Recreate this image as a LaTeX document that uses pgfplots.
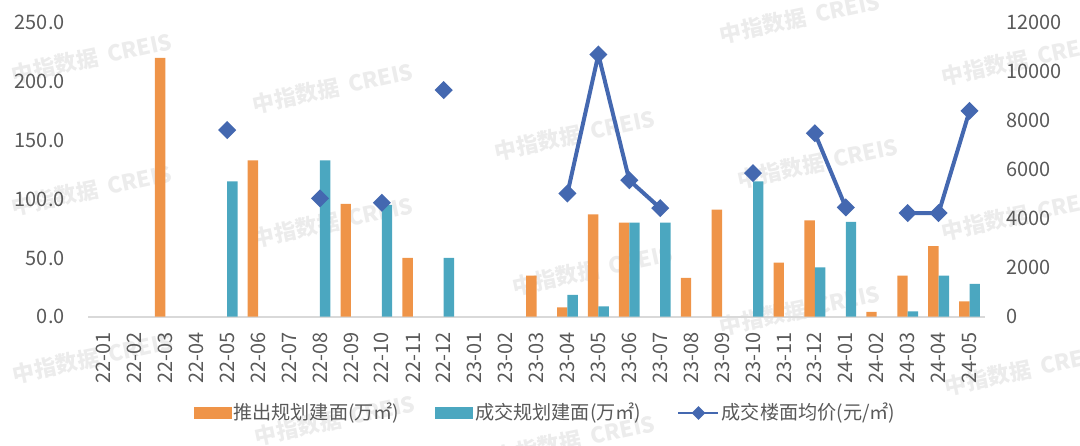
\documentclass[border=0pt]{standalone}
\usepackage{fontspec}
\setmainfont{Noto Sans CJK SC}
\usepackage{pgfplots}
\pgfplotsset{compat=1.18}
\usepackage{pgfplotstable}

\definecolor{cOr}{RGB}{239,148,72}
\definecolor{cTe}{RGB}{75,167,192}
\definecolor{cBl}{RGB}{68,104,176}
\definecolor{cTx}{RGB}{89,89,89}
\definecolor{cAx}{RGB}{217,217,217}
\definecolor{cWm}{RGB}{236,236,236}

\pgfplotstableread{
x o t p
0 nan nan nan
1 nan nan nan
2 220 nan nan
3 nan nan nan
4 nan 115 7620
5 133 nan nan
6 nan nan nan
7 nan 133 4830
8 96 nan nan
9 nan 95 4650
10 50 nan nan
11 nan 50 9250
12 nan nan nan
13 nan nan nan
14 35 nan nan
15 8 18.5 5030
16 87 8.8 10700
17 80 80 5570
18 nan 80 4430
19 33 nan nan
20 91 nan nan
21 nan 115 5860
22 46 nan nan
23 82 42 7490
24 nan 80.7 4460
25 4.2 nan nan
26 35 4.5 4230
27 60 35 4230
28 13 28 8400
}\data

\begin{document}
\begin{tikzpicture}
\path[use as bounding box] (0,0) rectangle (540bp,223bp);
% watermarks
\foreach \px/\py in {92/58,333/88,575/135,800/18,1022/60,92/190,333/222,593/270,818/163,1022/215,93/358,335/420,575/440,800/310,1025/370}{
  \node[rotate=12, text=cWm, font=\bfseries\fontsize{11}{13}\selectfont, inner sep=0pt] at ({\px*0.5bp},{(446-\py)*0.5bp}) {中指数据\ \ CREIS};
}
\begin{axis}[
  at={(44bp,64.65bp)}, anchor=south west,
  scale only axis, width=448.5bp, height=147bp,
  xmin=-0.5, xmax=28.5, ymin=0, ymax=250,
  axis x line*=bottom, axis y line*=left,
  y axis line style={draw=none},
  x axis line style={draw=cAx, line width=0.8bp, -},
  major tick length=0pt, tick style={draw=none},
  ytick={0,50,...,250},
  yticklabel style={text=cTx, font=\fontsize{10}{12}\selectfont, inner sep=0pt, anchor=east},
  /pgf/number format/fixed, /pgf/number format/fixed zerofill, /pgf/number format/precision=1,
  /pgf/number format/assume math mode=true,
  yticklabel shift=11.5bp,
  xtick={0,...,28},
  xticklabels={22-01,22-02,22-03,22-04,22-05,22-06,22-07,22-08,22-09,22-10,22-11,22-12,23-01,23-02,23-03,23-04,23-05,23-06,23-07,23-08,23-09,23-10,23-11,23-12,24-01,24-02,24-03,24-04,24-05},
  xticklabel style={rotate=90, anchor=east, text=cTx, font=\fontsize{10}{12}\selectfont, inner sep=0pt},
  xticklabel shift=7.5bp,
  ybar=0pt, bar width=5.2bp,
]
\addplot[fill=cOr, draw=none] table[x=x, y=o] {\data};
\addplot[fill=cTe, draw=none] table[x=x, y=t] {\data};
\end{axis}
\begin{axis}[
  at={(44bp,64.65bp)}, anchor=south west,
  scale only axis, width=448.5bp, height=147bp,
  xmin=-0.5, xmax=28.5, ymin=0, ymax=12000,
  axis x line=none, axis y line*=right,
  y axis line style={draw=none},
  major tick length=0pt, tick style={draw=none},
  ytick={0,2000,...,12000},
  scaled y ticks=false,
  yticklabel style={text=cTx, font=\fontsize{10}{12}\selectfont, inner sep=0pt, anchor=west},
  /pgf/number format/fixed, /pgf/number format/1000 sep={}, /pgf/number format/assume math mode=true,
  yticklabel shift=10.5bp,
  unbounded coords=jump,
  legend style={at={(rel axis cs:0.51,-0.3276)}, anchor=center, draw=none, fill=none,
    legend columns=3, font=\fontsize{9.6}{11}\selectfont, text=cTx,
    nodes={inner sep=1bp},
    /tikz/every even column/.append style={column sep=17bp}},
  legend cell align=left,
]
\addlegendimage{legend image code/.code={\fill[cOr] (0bp,-2.6bp) rectangle (18.5bp,2.6bp);}}
\addlegendentry{推出规划建面(万㎡)}
\addlegendimage{legend image code/.code={\fill[cTe] (0bp,-2.6bp) rectangle (18.5bp,2.6bp);}}
\addlegendentry{成交规划建面(万㎡)}
\addplot[cBl, line width=2bp, mark=square*, mark size=2.2bp, mark options={rotate=45, solid, fill=cBl},
  legend image code/.code={\draw[cBl, line width=1.3bp] (0bp,0bp) -- (20bp,0bp); \fill[cBl] (10bp,2bp) -- (12bp,0bp) -- (10bp,-2bp) -- (8bp,0bp) -- cycle;}]
  table[x=x, y=p] {\data};
\addlegendentry{成交楼面均价(元/㎡)}
\end{axis}
\end{tikzpicture}
\end{document}
